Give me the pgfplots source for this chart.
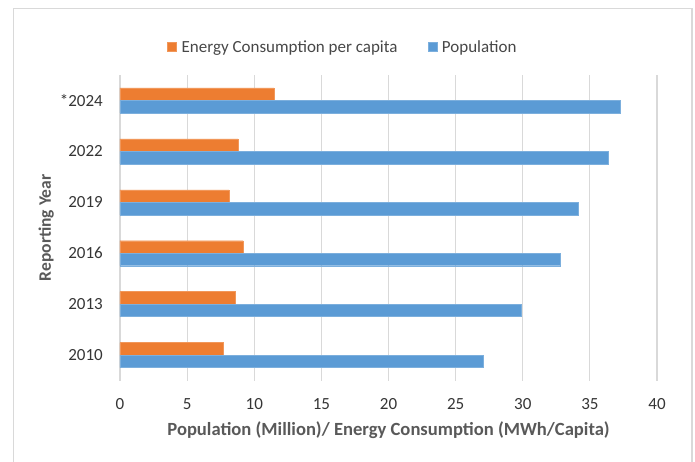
\documentclass[border=0pt]{standalone}
\usepackage{pgfplots}
\pgfplotsset{compat=1.18}
\usepackage{fontspec}
\setmainfont{Carlito}
\definecolor{eorange}{HTML}{ED7D31}
\definecolor{pblue}{HTML}{5B9BD5}
\definecolor{txt}{HTML}{595959}
\definecolor{gridc}{HTML}{D9D9D9}
\begin{document}
\begin{tikzpicture}
\begin{axis}[
  at={(0pt,0pt)}, anchor=south west,
  scale only axis,
  width=537pt, height=305.5pt,
  xbar, bar width=12.5pt,
  xmin=0, xmax=40,
  xtick={0,5,...,40},
  ymin=-0.5, ymax=5.5,
  ytick={0,1,2,3,4,5},
  yticklabels={2010,2013,2016,2019,2022,*2024},
  axis line style={draw=none},
  major tick length=0pt,
  xmajorgrids, grid style={gridc, line width=1.2pt},
  ymajorgrids=false,
  /pgf/number format/assume math mode=true,
  tick label style={font=\fontsize{17}{20}\selectfont, text=txt!60!black},
  yticklabel style={anchor=east, inner sep=0pt, xshift=-17pt},
  xticklabel style={anchor=north, inner sep=0pt, yshift=-17.5pt},
  xlabel={\bfseries Population (Million)/ Energy Consumption (MWh/Capita)},
  ylabel={\bfseries Reporting Year},
  label style={text=txt},
  xlabel style={font=\fontsize{18.6}{21}\selectfont, at={(0.5,0)}, anchor=north, yshift=-41pt, inner sep=0pt},
  ylabel style={font=\fontsize{17.5}{20}\selectfont, at={(0,0.5)}, anchor=south, xshift=0pt, yshift=66pt, inner sep=0pt},
  legend style={draw=none, fill=none, at={(0.415,1.092)}, anchor=center,
    legend columns=2, font=\fontsize{17}{20}\selectfont, text=txt!80!black,
    /tikz/every odd column/.append style={column sep=3pt},
    /tikz/every even column/.append style={column sep=28pt}},
  legend image code/.code={\fill[#1] (0pt,-4.5pt) rectangle (9pt,4.5pt);},
]
\addplot[fill=eorange, draw=eorange!80!white, bar shift=6.25pt] coordinates {
  (7.72,0) (8.56,1) (9.17,2) (8.11,3) (8.78,4) (11.47,5)};
\addlegendentry{Energy Consumption per capita}
\addplot[fill=pblue, draw=pblue!80!white, bar shift=-6.25pt] coordinates {
  (27.03,0) (29.87,1) (32.8,2) (34.15,3) (36.35,4) (37.26,5)};
\addlegendentry{Population}
\end{axis}
\draw[gridc, line width=1.2pt] (-106.5pt,-95pt) -- (-106.5pt,372pt) -- (572pt,372pt) -- (572pt,-95pt);
\pgfresetboundingbox
\path[use as bounding box] (-120pt,-80.5pt) rectangle (575pt,380.5pt);
\end{tikzpicture}
\end{document}
